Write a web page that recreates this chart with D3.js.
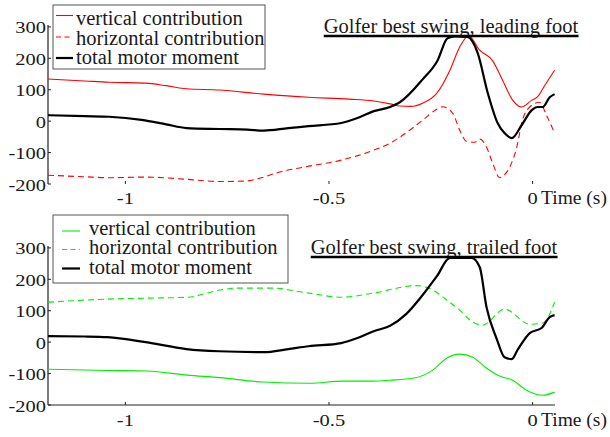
<!DOCTYPE html>
<html><head><meta charset="utf-8">
<script src="https://cdn.jsdelivr.net/npm/d3@7"></script>
<style>
body{margin:0;background:#fff}
</style>
</head><body>
<svg id="chart" width="610" height="437" font-family="'Liberation Serif', 'Times New Roman', 'DejaVu Serif', serif"></svg>
<script>
// ---------- data (time in s, moment values) ----------
const xTicks = [-1, -0.5, 0];
const xTickLabels = ["-1", "-0.5", "0"];
const yTicks = [300, 200, 100, 0, -100, -200];
const yTickLabels = ["300", "200", "100", "0", "-100", "-200"];
const legendLabels = ["vertical contribution", "horizontal contribution", "total motor moment"];
const titles = ["Golfer best swing, leading foot", "Golfer best swing, trailed foot"];
const xAxisLabel = "Time (s)";

// Leading foot
const leadVertT = [-1.19,-1.10,-1.04,-0.95,-0.90,-0.85,-0.77,-0.66,-0.55,-0.45,-0.39,-0.35,-0.326,-0.30,-0.27,-0.235,-0.203,-0.179,-0.157,-0.130,-0.098,-0.074,-0.049,-0.027,-0.002,0.012,0.029,0.054];
const leadVert  = [134,128,124,121,113,103,99,86,76,70,64,55,48,47,57,89,162,236,272,226,192,131,67,45,67,77,112,162];

const leadHorT = [-1.19,-1.10,-1.04,-0.95,-0.85,-0.77,-0.71,-0.66,-0.627,-0.56,-0.47,-0.39,-0.35,-0.326,-0.27,-0.235,-0.221,-0.196,-0.179,-0.162,-0.142,-0.130,-0.113,-0.098,-0.081,-0.070,-0.056,-0.039,-0.025,-0.007,0.017,0.034,0.054];
const leadHor  = [-172,-177,-180,-178,-185,-192,-191,-178,-164,-146,-124,-92,-70,-51,3,38,46,25,-29,-64,-67,-57,-83,-134,-180,-172,-146,-83,3,45,60,19,-38];

const leadTotT = [-1.19,-1.10,-1.04,-0.96,-0.90,-0.85,-0.77,-0.70,-0.66,-0.60,-0.55,-0.47,-0.43,-0.39,-0.35,-0.326,-0.27,-0.233,-0.209,-0.19,-0.160,-0.135,-0.110,-0.086,-0.069,-0.051,-0.027,-0.002,0.012,0.025,0.042,0.054];
const leadTot  = [19,16,14,4,-10,-22,-25,-27,-30,-22,-16,-6,10,32,45,60,133,194,264,270,268,217,89,-6,-38,-54,-13,35,45,45,76,86];

// Trailed foot
const trailVertT = [-1.19,-1.044,-0.946,-0.848,-0.767,-0.662,-0.547,-0.466,-0.392,-0.35,-0.294,-0.245,-0.211,-0.179,-0.147,-0.113,-0.081,-0.049,-0.015,0.025,0.054];
const trailVert  = [-86,-90,-92,-105,-113,-127,-131,-124,-124,-121,-115,-89,-51,-38,-48,-83,-108,-121,-153,-169,-159];

const trailHorT = [-1.19,-1.044,-0.946,-0.848,-0.767,-0.725,-0.637,-0.564,-0.466,-0.392,-0.284,-0.245,-0.211,-0.179,-0.147,-0.123,-0.069,-0.007,0.025,0.054];
const trailHor  = [127,137,140,143,166,172,172,159,143,156,180,166,134,102,64,54,105,57,61,127];

const trailTotT = [-1.19,-1.10,-1.044,-0.95,-0.85,-0.77,-0.66,-0.60,-0.55,-0.47,-0.43,-0.39,-0.35,-0.31,-0.27,-0.235,-0.203,-0.150,-0.130,-0.113,-0.088,-0.069,-0.051,-0.037,-0.007,0.022,0.042,0.054];
const trailTot  = [19,18,16,0,-22,-29,-32,-22,-13,-3,13,35,52,90,150,210,268,268,239,110,10,-48,-54,-25,29,45,80,86];

// ---------- drawing ----------
const svg = d3.select("#chart");
const x = d3.scaleLinear().domain([-1.19, 0.055]).range([48, 555]);

const panels = [
  { yRange:[184,25], baseline:false, color:"#ff0000",
    series:[[leadVertT,leadVert],[leadHorT,leadHor],[leadTotT,leadTot]],
    legend:{x:53,y:5,w:212,h:64,lx1:56,lx2:73,tx:76,ly:[15.5,37,58],ty:[25,45,64]},
    title:{cx:451,y:33,uy:36}, xLabY:204 },
  { yRange:[405,246], baseline:true, color:"#00ee00",
    series:[[trailVertT,trailVert],[trailHorT,trailHor],[trailTotT,trailTot]],
    legend:{x:53,y:215,w:235,h:68,lx1:62,lx2:80,tx:89,ly:[231,249.5,268.5],ty:[235,254,274]},
    title:{cx:434,y:254,uy:257}, xLabY:426 }
];

panels.forEach((p, pi) => {
  const y = d3.scaleLinear().domain([-200, 306]).range(p.yRange);
  const g = svg.append("g");
  const styles = [
    {stroke:p.color, width:1.1, dash:null},
    {stroke:p.color, width:1.1, dash:"6,4"},
    {stroke:"#000", width:2.2, dash:null}
  ];

  // y axis
  g.append("line").attr("x1",x.range()[0]).attr("x2",x.range()[0])
    .attr("y1",y.range()[1]).attr("y2",y.range()[0]).attr("stroke","#222").attr("stroke-width",1.2);
  yTicks.forEach((v,i) => {
    g.append("line").attr("x1",x.range()[0]).attr("x2",x.range()[0]+3)
      .attr("y1",y(v)).attr("y2",y(v)).attr("stroke","#222").attr("stroke-width",1);
    g.append("text").attr("text-anchor","end").attr("font-size",17.5).attr("fill","#1a1a1a")
      .attr("transform",`translate(${x.range()[0]-2},${y(v)+6.5}) scale(1.17,1)`)
      .text(yTickLabels[i]);
  });

  // x axis
  const yb = y(-200);
  if (p.baseline) {
    g.append("line").attr("x1",x.range()[0]).attr("x2",x.range()[1])
      .attr("y1",yb).attr("y2",yb).attr("stroke","#222").attr("stroke-width",1.2);
  }
  xTicks.forEach((v,i) => {
    g.append("line").attr("x1",x(v)).attr("x2",x(v)).attr("y1",yb).attr("y2",yb-3)
      .attr("stroke","#222").attr("stroke-width",1);
    g.append("text").attr("text-anchor","middle").attr("font-size",17.5).attr("fill","#1a1a1a")
      .attr("transform",`translate(${x(v)},${p.xLabY}) scale(1.17,1)`)
      .text(xTickLabels[i]);
  });
  g.append("text").attr("x",541).attr("y",p.xLabY).attr("font-size",19.5).attr("fill","#1a1a1a").text(xAxisLabel);

  // lines
  const line = d3.line().curve(d3.curveMonotoneX);
  p.series.forEach((s,i) => {
    const pts = s[0].map((t,j) => [x(t), y(s[1][j])]);
    g.append("path").attr("d", line(pts)).attr("fill","none")
      .attr("stroke",styles[i].stroke).attr("stroke-width",styles[i].width)
      .attr("stroke-dasharray",styles[i].dash).attr("stroke-linejoin","round");
  });

  // title with underline
  const tt = g.append("text").attr("x",p.title.cx).attr("y",p.title.y).attr("fill","#1a1a1a")
    .attr("text-anchor","middle").attr("font-size",20.5).text(titles[pi]);
  const bb = tt.node().getBBox();
  g.append("line").attr("x1",bb.x).attr("x2",bb.x+bb.width)
    .attr("y1",p.title.uy).attr("y2",p.title.uy).attr("stroke","#000").attr("stroke-width",2.4);

  // legend
  const L = p.legend;
  g.append("rect").attr("x",L.x).attr("y",L.y).attr("width",L.w).attr("height",L.h)
    .attr("fill","#fff").attr("stroke","#555").attr("stroke-width",1);
  legendLabels.forEach((lab,i) => {
    g.append("line").attr("x1",L.lx1).attr("x2",L.lx2).attr("y1",L.ly[i]).attr("y2",L.ly[i])
      .attr("stroke",styles[i].stroke).attr("stroke-width",styles[i].width)
      .attr("stroke-dasharray", i===1 ? "5,3.5" : null);
    g.append("text").attr("x",L.tx).attr("y",L.ty[i]).attr("font-size",20.5).attr("fill","#1a1a1a").text(lab);
  });
});
</script>
</body></html>
